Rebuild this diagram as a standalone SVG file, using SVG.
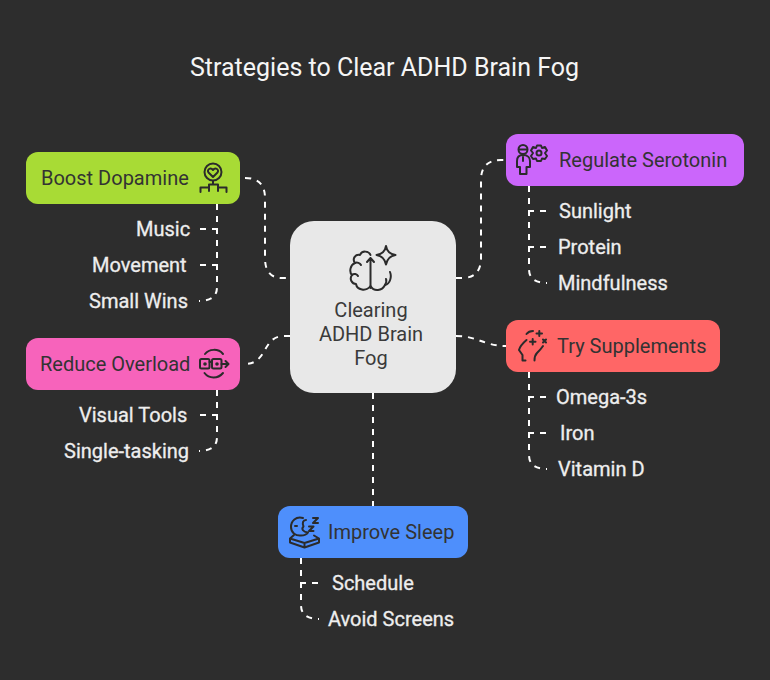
<svg xmlns="http://www.w3.org/2000/svg" width="770" height="680" viewBox="0 0 770 680">
<style>
text{font-family:Roboto,"Liberation Sans",sans-serif}
.title{font-size:25px;fill:#f5f5f5}
.n{font-size:20px;fill:#333}
.l{font-size:20px;fill:#eee;stroke:#eee;stroke-width:.3}
.c{font-size:20px;fill:#3a3a3a;text-anchor:middle}
.d{fill:none;stroke:#fff;stroke-width:2;stroke-dasharray:6 6}
.i{fill:none;stroke:#2b2b2b;stroke-width:2;stroke-linecap:round;stroke-linejoin:round}
</style>
<rect width="770" height="680" fill="#2d2d2d"/>
<text class="title" x="190" y="76">Strategies to Clear ADHD Brain Fog</text>
<g id="connectors">
<path class="d" d="M245 178Q265 178 265 198V258Q265 278 282 278H290"/>
<path class="d" d="M456 278H462Q481 278 481 258V180Q481 160 501 160H506"/>
<path class="d" d="M290 336H284C262 336 268 364 245 364"/>
<path class="d" d="M456 336C478 336 484 346 506 346"/>
<path class="d" d="M373 393V506"/>
<path class="d" d="M217 204V229H199"/>
<path class="d" d="M217 204V265H199"/>
<path class="d" d="M217 204V287Q217 301 199 301"/>
<path class="d" d="M529 186V211H547"/>
<path class="d" d="M529 186V247H547"/>
<path class="d" d="M529 186V269Q529 283 547 283"/>
<path class="d" d="M217 390V415H199"/>
<path class="d" d="M217 390V437Q217 451 199 451"/>
<path class="d" d="M529 372V397H547"/>
<path class="d" d="M529 372V433H547"/>
<path class="d" d="M529 372V455Q529 469 547 469"/>
<path class="d" d="M301 558V583H319"/>
<path class="d" d="M301 558V605Q301 619 319 619"/>
</g>
<g id="center">
<rect x="290" y="221" width="166" height="172" rx="24" fill="#e8e8e8"/>
<path class="i" d="M370.500 258V288M367 262L370.500 258L374 262"/>
<path class="i" d="M370.500 255C369 251 362 250 360 255C355 254 352 259 355 263C350 265 349 272 352 275C349 279 352 284 356 284C357 290 366 292 370.500 286C374 292 382 291 385 285C390 284 392 277 390 272"/>
<path class="i" d="M355 263C357 262 360 263 361 265M352 275C354 273 357 274 358 276M385 285C386 283 387 281 386 279"/>
<path class="i" d="M386 246C387 252 390 254 395.500 255C390 256 387 259 386 264.500C385 259 382 256 376.500 255C382 254 385 252 386 246Z"/>
<text class="c" x="371" y="317">Clearing</text>
<text class="c" x="371" y="341">ADHD Brain</text>
<text class="c" x="371" y="365">Fog</text>
</g>
<g id="boost">
<rect x="26" y="152" width="214" height="52" rx="12" fill="#a8db35"/>
<text class="n" x="41" y="185">Boost Dopamine</text>
<circle class="i" cx="213" cy="172" r="8.500"/>
<path class="i" d="M213 177L208.500 172.500C206.500 169.500 210.500 167 213 170C215.500 167 219.500 169.500 217.500 172.500Z"/>
<path class="i" d="M200.500 192V187.500H209V184.500H218V187.500H226.500V192M209 187.500V191M218 187.500V191M213 181V184.500"/>
</g>
<g id="regulate">
<rect x="506" y="134" width="238" height="52" rx="12" fill="#cb66fb"/>
<text class="n" x="559" y="167">Regulate Serotonin</text>
<circle class="i" cx="523" cy="149.500" r="4.500"/>
<path class="i" d="M519 149.500H527M523 157V161M523 155C518 155 517 158 517 161V167H520V174H526.500V167H530V161C530 158 528 155 523 155Z"/>
<circle class="i" cx="539" cy="153" r="2.500"/>
<path class="i" d="M537 145.500H541L542 148L545 147L547 150.500L545 153L547 156L545 159L542 158.500L541 161H537L536 158.500L533 159L531 156L533 153L531 150.500L533 147L536 148Z"/>
</g>
<g id="reduce">
<rect x="26" y="338" width="214" height="52" rx="12" fill="#f763bb"/>
<text class="n" x="40" y="371">Reduce Overload</text>
<rect class="i" x="200" y="359" width="9.500" height="9.500" rx="1.500"/>
<rect class="i" x="212" y="359" width="9.500" height="9.500" rx="1.500"/>
<path class="i" d="M209.500 362H212"/>
<circle cx="205" cy="364" r="1.800" fill="#2b2b2b"/>
<circle cx="217" cy="364" r="1.800" fill="#2b2b2b"/>
<path class="i" d="M221.500 364H228M225.500 361L228.500 364L225.500 367M205 354C209 349 218 348 223 354M204.500 373C209 379 218 379 223 373"/>
</g>
<g id="try">
<rect x="506" y="320" width="214" height="52" rx="12" fill="#ff6666"/>
<text class="n" x="557" y="353">Try Supplements</text>
<path class="i" d="M526.500 340C523 343 520 346 519 350L522.500 355V360.500H525.500M543 346C541 349 539 351 537 353C535 355 534.500 358 534.500 360.500"/>
<path class="i" d="M526.500 334C528 332 530 331 533 331"/>
<path class="i" d="M536.500 333.500H542M539.300 331V336M530 341.700H535.500M532.700 339V344.500M543 339.500L546 342.500M546 339.500L543 342.500"/>
</g>
<g id="improve">
<rect x="278" y="506" width="190" height="52" rx="12" fill="#4e8ffc"/>
<text class="n" x="328" y="539">Improve Sleep</text>
<path class="i" d="M303 518C296 516 291 521 291 527C291 533 296 536 301 535.500C304 535.500 307 534 308 532.500C303 532 301 529 303.500 526.500C302 523 303 520 306 520"/>
<path class="i" d="M295 526H297M309 526.500H313.500L309 531H313.500M313 518H318L313 523H318"/>
<path class="i" d="M294 535L290 538.500L304.500 543L319 538.500L314 535.500M290 538.500V542.500L304.500 547.500L319 542.500V538.500M304.500 543V547.500"/>
</g>
<g id="leaves">
<text class="l" x="136" y="236">Music</text>
<text class="l" x="92" y="272">Movement</text>
<text class="l" x="89" y="308">Small Wins</text>
<text class="l" x="559" y="218">Sunlight</text>
<text class="l" x="558" y="254">Protein</text>
<text class="l" x="558" y="290">Mindfulness</text>
<text class="l" x="79" y="422">Visual Tools</text>
<text class="l" x="64" y="458">Single-tasking</text>
<text class="l" x="556" y="404">Omega-3s</text>
<text class="l" x="560" y="440">Iron</text>
<text class="l" x="558" y="476">Vitamin D</text>
<text class="l" x="332" y="590">Schedule</text>
<text class="l" x="328" y="626">Avoid Screens</text>
</g>
</svg>
